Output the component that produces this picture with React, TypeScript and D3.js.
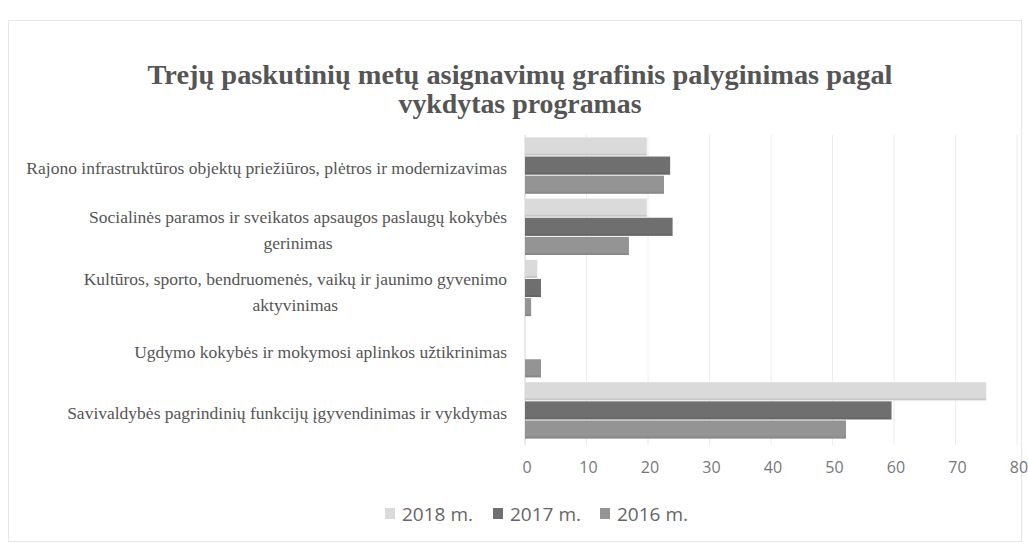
import React, { useEffect, useRef } from "react";
import * as d3 from "d3";

const categories = [
  "Rajono infrastruktūros objektų priežiūros, plėtros ir modernizavimas",
  "Socialinės paramos ir sveikatos apsaugos paslaugų kokybės|gerinimas",
  "Kultūros, sporto, bendruomenės, vaikų ir jaunimo gyvenimo|aktyvinimas",
  "Ugdymo kokybės ir mokymosi aplinkos užtikrinimas",
  "Savivaldybės  pagrindinių funkcijų įgyvendinimas ir vykdymas",
];
const seriesNames = ["2018 m.", "2017 m.", "2016 m."];
const values2018 = [19.8, 19.8, 2.0, 0, 75.0];
const values2017 = [23.6, 24.0, 2.6, 0, 59.6];
const values2016 = [22.6, 16.9, 1.0, 2.6, 52.2];
const xTicks = [0, 10, 20, 30, 40, 50, 60, 70, 80];
const titleLines = [
  "Trejų paskutinių metų asignavimų  grafinis palyginimas pagal",
  "vykdytas programas",
];
const colors = ["#dadada", "#6f6f6f", "#949494"];

export default function App() {
  const ref = useRef<SVGSVGElement>(null);
  useEffect(() => {
    const svg = d3.select(ref.current);
    svg.selectAll("*").remove();
    const W = 1028, H = 546;
    svg.append("rect").attr("width", W).attr("height", H).attr("fill", "#fff");
    svg.append("rect").attr("x", 8.5).attr("y", 20.5).attr("width", 1013).attr("height", 521)
      .attr("fill", "none").attr("stroke", "#e6e6e6");

    // title
    const t = svg.append("g");
    const titleWidths = [745, 243];
    titleLines.forEach((line, i) => {
      t.append("text")
        .attr("x", 520).attr("y", 84 + i * 29)
        .attr("text-anchor", "middle")
        .attr("font-family", "'Liberation Serif', serif")
        .attr("font-weight", "bold")
        .attr("font-size", 28)
        .attr("fill", "#555")
        .attr("textLength", titleWidths[i])
        .attr("lengthAdjust", "spacingAndGlyphs")
        .text(line);
    });

    const x = d3.scaleLinear().domain([0, 80]).range([525, 1017]);
    const y = d3.scaleBand<number>().domain(d3.range(categories.length)).range([135.5, 441.5]).padding(0);
    const ySub = d3.scaleBand<number>().domain([0, 1, 2]).range([0, y.bandwidth()]).paddingOuter(0.1).paddingInner(0.0);

    // gridlines
    const grid = svg.append("g");
    xTicks.forEach((v) => {
      grid.append("line")
        .attr("x1", x(v)).attr("x2", x(v))
        .attr("y1", 135).attr("y2", 445)
        .attr("stroke", v === 0 ? "#d4d4d4" : "#ececec").attr("stroke-width", 1);
    });

    // bars
    const allValues = [values2018, values2017, values2016];
    const bars = svg.append("g");
    allValues.forEach((vals, s) => {
      vals.forEach((v, i) => {
        if (v <= 0) return;
        const y0 = (y(i) as number) + (ySub(s) as number);
        const h = ySub.bandwidth() - 1;
        bars.append("rect")
          .attr("x", x(0)).attr("y", y0)
          .attr("width", x(v) - x(0)).attr("height", h)
          .attr("fill", colors[s]);
        bars.append("rect")
          .attr("x", x(0)).attr("y", y0 + h - 2)
          .attr("width", x(v) - x(0)).attr("height", 2)
          .attr("fill", "#000").attr("opacity", 0.08);
      });
    });

    // category labels
    const lab = svg.append("g")
      .attr("font-family", "'Liberation Serif', serif")
      .attr("font-size", 17.5)
      .attr("fill", "#555");
    categories.forEach((c, i) => {
      const lines = c.split("|");
      const cy = (y(i) as number) + y.bandwidth() / 2 + 2;
      if (lines.length === 1) {
        lab.append("text").attr("x", 507).attr("y", cy).attr("dy", "0.35em")
          .attr("text-anchor", "end").text(lines[0]);
      } else {
        const first = lab.append("text").attr("x", 507).attr("y", cy - 12).attr("dy", "0.35em")
          .attr("text-anchor", "end").text(lines[0]);
        const w = (first.node() as SVGTextElement).getComputedTextLength();
        const cx = 507 - w / 2;
        lab.append("text").attr("x", cx).attr("y", cy + 14).attr("dy", "0.35em")
          .attr("text-anchor", "middle").text(lines[1]);
      }
    });

    // tick labels
    const tl = svg.append("g")
      .attr("font-family", "'Liberation Sans Narrow', 'Open Sans', sans-serif")
      .attr("font-size", 16)
      .attr("fill", "#777");
    xTicks.forEach((v) => {
      tl.append("text").attr("x", x(v) + 2).attr("y", 467).attr("dy", "0.35em")
        .attr("text-anchor", "middle").text(String(v));
    });

    // legend
    const lg = svg.append("g")
      .attr("font-family", "'Liberation Sans Narrow', 'Open Sans', sans-serif")
      .attr("font-size", 19)
      .attr("fill", "#666");
    const legX = [385, 493, 600];
    seriesNames.forEach((n, s) => {
      lg.append("rect").attr("x", legX[s]).attr("y", 508).attr("width", 10).attr("height", 11)
        .attr("fill", colors[s]);
      lg.append("text").attr("x", legX[s] + 17).attr("y", 514).attr("dy", "0.35em").text(n);
    });
  }, []);
  return (
    <svg ref={ref} width={1028} height={546}
      style={{ position: "absolute", left: 0, top: 0, display: "block" }} />
  );
}
